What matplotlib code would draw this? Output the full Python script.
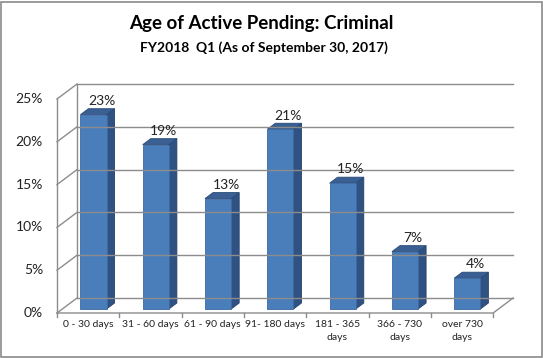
import numpy as np
import matplotlib
matplotlib.use('Agg')
import matplotlib.pyplot as plt
from matplotlib.patches import Polygon, Rectangle

plt.rcParams['font.family'] = ['Lato', 'DejaVu Sans']

# data
categories = ['0 - 30 days', '31 - 60 days', '61 - 90 days', '91- 180 days',
              '181 - 365\ndays', '366 - 730\ndays', 'over 730\ndays']
values = [22.7, 19.2, 12.9, 21.0, 14.7, 6.7, 3.6]
labels = ['23%', '19%', '13%', '21%', '15%', '7%', '4%']
yticks = [0, 5, 10, 15, 20, 25]

# fake 3d: depth z in [0,1] shifts right/up
DX, DY = 0.321, 1.752
z0, z1 = 0.267, 0.667
w = 0.42
n = len(categories)

def P(x, y, z):
    return (x + z * DX, y + z * DY)

fig = plt.figure(figsize=(5.43, 3.58), dpi=100)
ax = fig.add_axes([40 / 543, 28 / 358, 490 / 543, 260 / 358])
ax.set_xlim(-0.2729, 7.592)
ax.set_ylim(-1.986, 28.39)
ax.axis('off')

grid = '#8c8c8c'
# back wall gridlines + left wall diagonals
for t in yticks:
    ax.plot(*zip(P(0, t, 1), P(n, t, 1)), color=grid, lw=1)
    ax.plot(*zip(P(0, t, 0), P(0, t, 1)), color=grid, lw=1)
ax.plot(*zip(P(0, 0, 1), P(0, 25, 1)), color=grid, lw=1)
ax.plot(*zip(P(0, 0, 0), P(0, 25, 0)), color=grid, lw=1)
# floor
ax.plot(*zip(P(0, 0, 0), P(n, 0, 0), P(n, 0, 1)), color=grid, lw=1)
for i in range(n + 1):
    ax.plot([i, i], [0, -0.45], color=grid, lw=1)

for t in yticks:
    ax.text(-0.225, t, f'{t}%', ha='right', va='center', fontsize=10, color='#222222')

front_c, side_c, top_c = '#4a7ebb', '#2f5283', '#3a5f92'
for i, v in enumerate(values):
    xl, xr = i + 0.5 - w / 2, i + 0.5 + w / 2
    front = [P(xl, 0, z0), P(xr, 0, z0), P(xr, v, z0), P(xl, v, z0)]
    side = [P(xr, 0, z0), P(xr, 0, z1), P(xr, v, z1), P(xr, v, z0)]
    top = [P(xl, v, z0), P(xr, v, z0), P(xr, v, z1), P(xl, v, z1)]
    ax.add_patch(Polygon(side, closed=True, fc=side_c, ec='#24406a', lw=0.6))
    ax.add_patch(Polygon(top, closed=True, fc=top_c, ec='#2a4a78', lw=0.6))
    ax.add_patch(Polygon(front, closed=True, fc=front_c, ec='#3d6aa3', lw=0.6))
    cx, cy = P(i + 0.5, v, z1)
    ax.text(cx, cy + 0.2, labels[i], ha='center', va='bottom', fontsize=10, color='#222222')

for i, c in enumerate(categories):
    ax.text(i + 0.5, -0.8, c, ha='center', va='top', fontsize=7.5, color='#222222',
            linespacing=1.55)

fig.text(261 / 543, 1 - 24 / 358, 'Age of Active Pending: Criminal', ha='center', va='center',
         fontsize=13.5, fontweight='bold')
fig.text(264 / 543, 1 - 48 / 358, 'FY2018  Q1 (As of September 30, 2017)', ha='center',
         va='center', fontsize=10, fontweight='bold')

fig.add_artist(Rectangle((0.5 / 543, 1.5 / 358), 541 / 543, 355 / 358, transform=fig.transFigure,
                         fill=False, ec='#8a8a8a', lw=1.2))

fig.savefig('out.png', dpi=100)
